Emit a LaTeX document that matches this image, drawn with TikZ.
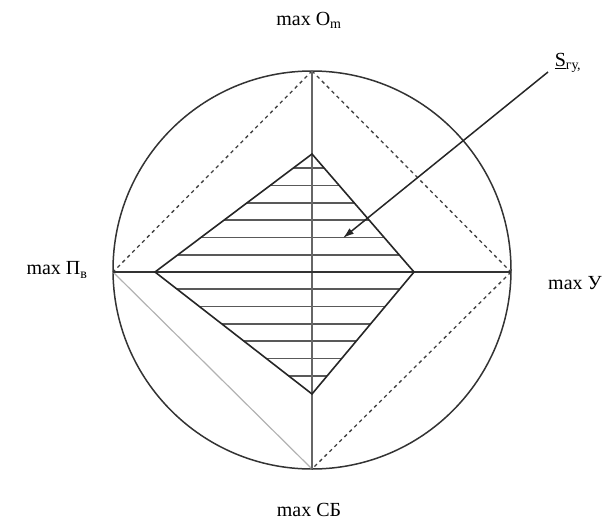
\documentclass[tikz,border=0pt]{standalone}
\usepackage{fontspec}
\setmainfont{Liberation Serif}
\usetikzlibrary{arrows.meta}
\begin{document}
\begin{tikzpicture}[x=1pt,y=-1pt,
  lbl/.style={font=\fontsize{20}{23}\selectfont, inner sep=1pt},
  axis/.style={line width=2pt, draw=black!60},
  edge/.style={line width=1.6pt, draw=black!85},
  hatch/.style={line width=1.7pt, draw=black!65},
  dashline/.style={line width=1.3pt, dash pattern=on 3.5pt off 3.5pt, draw=black!75}]
\useasboundingbox (0,0) rectangle (610,530);
\coordinate (C) at (312,270);
\draw[line width=1.5pt, draw=black!80] (C) circle (199);
\coordinate (T) at (312,71);
\coordinate (B) at (312,469);
\coordinate (L) at (113,272);
\coordinate (R) at (511,272);
\coordinate (DT) at (312,154);
\coordinate (DB) at (312,394);
\coordinate (DL) at (155,272);
\coordinate (DR) at (414,272);
% hatching
\begin{scope}
\clip (DT) -- (DR) -- (DB) -- (DL) -- cycle;
\foreach \k in {-6,...,-1,1,2,...,6} {
  \draw[hatch] (150,272+17.3*\k) -- (420,272+17.3*\k);
}
\end{scope}
% dashed lines
\draw[dashline] (T) -- (L);
\draw[dashline] (T) -- (R);
\draw[dashline] (R) -- (B);
\draw[line width=1.2pt, draw=black!30] (L) -- (B);
% axes
\draw[axis] (T) -- (B);
\draw[line width=1.6pt, draw=black!80] (L) -- (R);
% diamond
\draw[edge] (DT) -- (DR) -- (DB) -- (DL) -- cycle;
% labels
\node[lbl] (lt) at (309,20) {max O\textsubscript{m}};
\node[lbl] (lr) at (575,283) {max У};
\node[lbl] (ll) at (57,270) {max П\textsubscript{в}};
\node[lbl] (lb) at (309,510) {max СБ};
\node[lbl] (ls) at (568,63) {\underline{S}\textsubscript{гу,}};
\coordinate (tip) at (343,238);
\coordinate (st) at (548,72);
\draw[line width=1.5pt, draw=black!85, -{Latex[length=11pt,width=7pt]}] (st) -- (tip);
\end{tikzpicture}
\end{document}
